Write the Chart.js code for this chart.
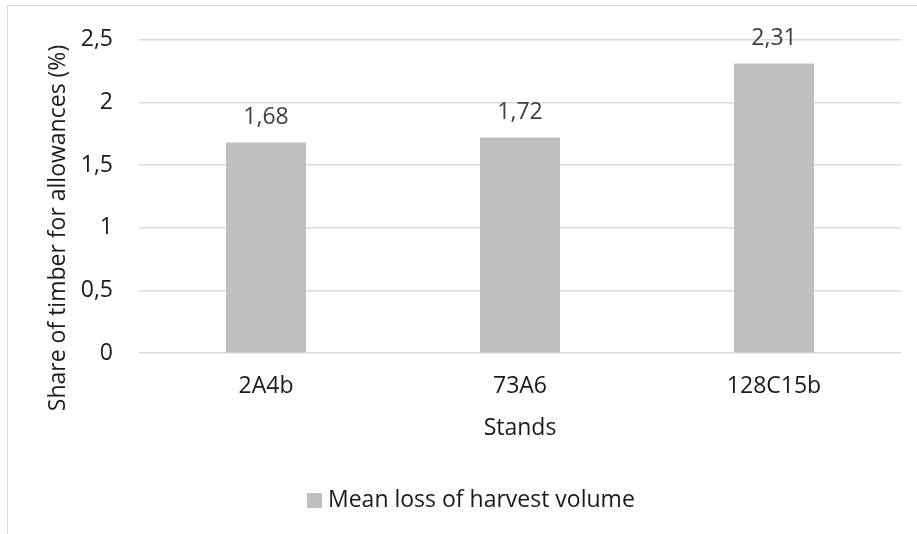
<!DOCTYPE html>
<html>
<head>
<meta charset="utf-8">
<script src="https://cdn.jsdelivr.net/npm/chart.js@4/dist/chart.umd.min.js"></script>
<style>
  html, body { margin: 0; padding: 0; background: #ffffff; }
  #wrap { width: 917px; height: 534px; position: relative; }
</style>
</head>
<body>
<div id="wrap"><canvas id="chart" width="917" height="534"></canvas></div>
<script>
// Stands and mean loss of harvest volume (% of timber for allowances)
const stands = ['2A4b', '73A6', '128C15b'];
const meanLoss = [1.68, 1.72, 2.31];
const yTickValues = [0, 0.5, 1, 1.5, 2, 2.5];
const yTitle = 'Share of timber for allowances (%)';
const xTitle = 'Stands';
const seriesName = 'Mean loss of harvest volume';

const FONT = '"Open Sans", "Noto Sans", sans-serif';
const SIZE = 23;
const TEXT = '#1a1a1a';
const fmt = v => String(v).replace('.', ',');

// Light frame around the chart object
const framePlugin = {
  id: 'frame',
  beforeDraw(chart) {
    const ctx = chart.ctx;
    ctx.save();
    ctx.fillStyle = '#ffffff';
    ctx.fillRect(0, 0, chart.width, chart.height);
    ctx.strokeStyle = '#d9d9d9';
    ctx.lineWidth = 1;
    ctx.strokeRect(7.5, 5.5, chart.width + 20, chart.height + 20);
    ctx.restore();
  }
};

// Value labels above each bar
const valueLabels = {
  id: 'valueLabels',
  afterDatasetsDraw(chart) {
    const ctx = chart.ctx;
    ctx.save();
    ctx.font = SIZE + 'px ' + FONT;
    ctx.fillStyle = '#404040';
    ctx.textAlign = 'center';
    ctx.textBaseline = 'middle';
    chart.getDatasetMeta(0).data.forEach((bar, i) => {
      ctx.fillText(fmt(meanLoss[i]), bar.x, bar.y - 25);
    });
    ctx.restore();
  }
};

// Rotated value-axis title and the series key under the chart
const sideTexts = {
  id: 'sideTexts',
  afterDraw(chart) {
    const ctx = chart.ctx;
    ctx.save();
    ctx.font = SIZE + 'px ' + FONT;
    ctx.fillStyle = TEXT;
    ctx.translate(65, 228);
    ctx.rotate(-Math.PI / 2);
    ctx.textAlign = 'center';
    ctx.textBaseline = 'alphabetic';
    ctx.fillText(yTitle, 0, 0);
    ctx.restore();

    const ds = chart.data.datasets[0];
    ctx.save();
    ctx.font = SIZE + 'px ' + FONT;
    ctx.fillStyle = ds.backgroundColor;
    ctx.fillRect(307, 493, 15, 15);
    ctx.fillStyle = TEXT;
    ctx.textAlign = 'left';
    ctx.textBaseline = 'middle';
    ctx.fillText(ds.label, 328, 500);
    ctx.restore();
  }
};

new Chart(document.getElementById('chart'), {
  type: 'bar',
  data: {
    labels: stands,
    datasets: [{
      label: seriesName,
      data: meanLoss,
      backgroundColor: '#bfbfbf',
      borderWidth: 0,
      categoryPercentage: 1,
      barPercentage: 0.315
    }]
  },
  options: {
    responsive: false,
    animation: false,
    layout: { padding: { top: 34, right: 16, bottom: 56, left: 0 } },
    plugins: {
      legend: { display: false },
      tooltip: { enabled: false }
    },
    scales: {
      x: {
        grid: { display: false, drawTicks: false },
        border: { display: false },
        ticks: { font: { family: FONT, size: SIZE }, color: TEXT, padding: 20 },
        title: {
          display: true,
          text: xTitle,
          font: { family: FONT, size: SIZE },
          color: TEXT,
          padding: { top: 0, bottom: 36 }
        },
        afterFit(scale) { scale.height = 125; }
      },
      y: {
        min: 0,
        max: 2.5,
        afterBuildTicks(scale) { scale.ticks = yTickValues.map(v => ({ value: v })); },
        grid: { color: '#d9d9d9', lineWidth: 1.5, drawTicks: false, tickLength: 0 },
        border: { display: false },
        ticks: {
          font: { family: FONT, size: SIZE },
          color: TEXT,
          padding: 26,
          callback: v => fmt(v)
        },
        title: { display: false },
        afterFit(scale) { scale.width = 139; }
      }
    }
  },
  plugins: [framePlugin, valueLabels, sideTexts]
});
</script>
</body>
</html>
